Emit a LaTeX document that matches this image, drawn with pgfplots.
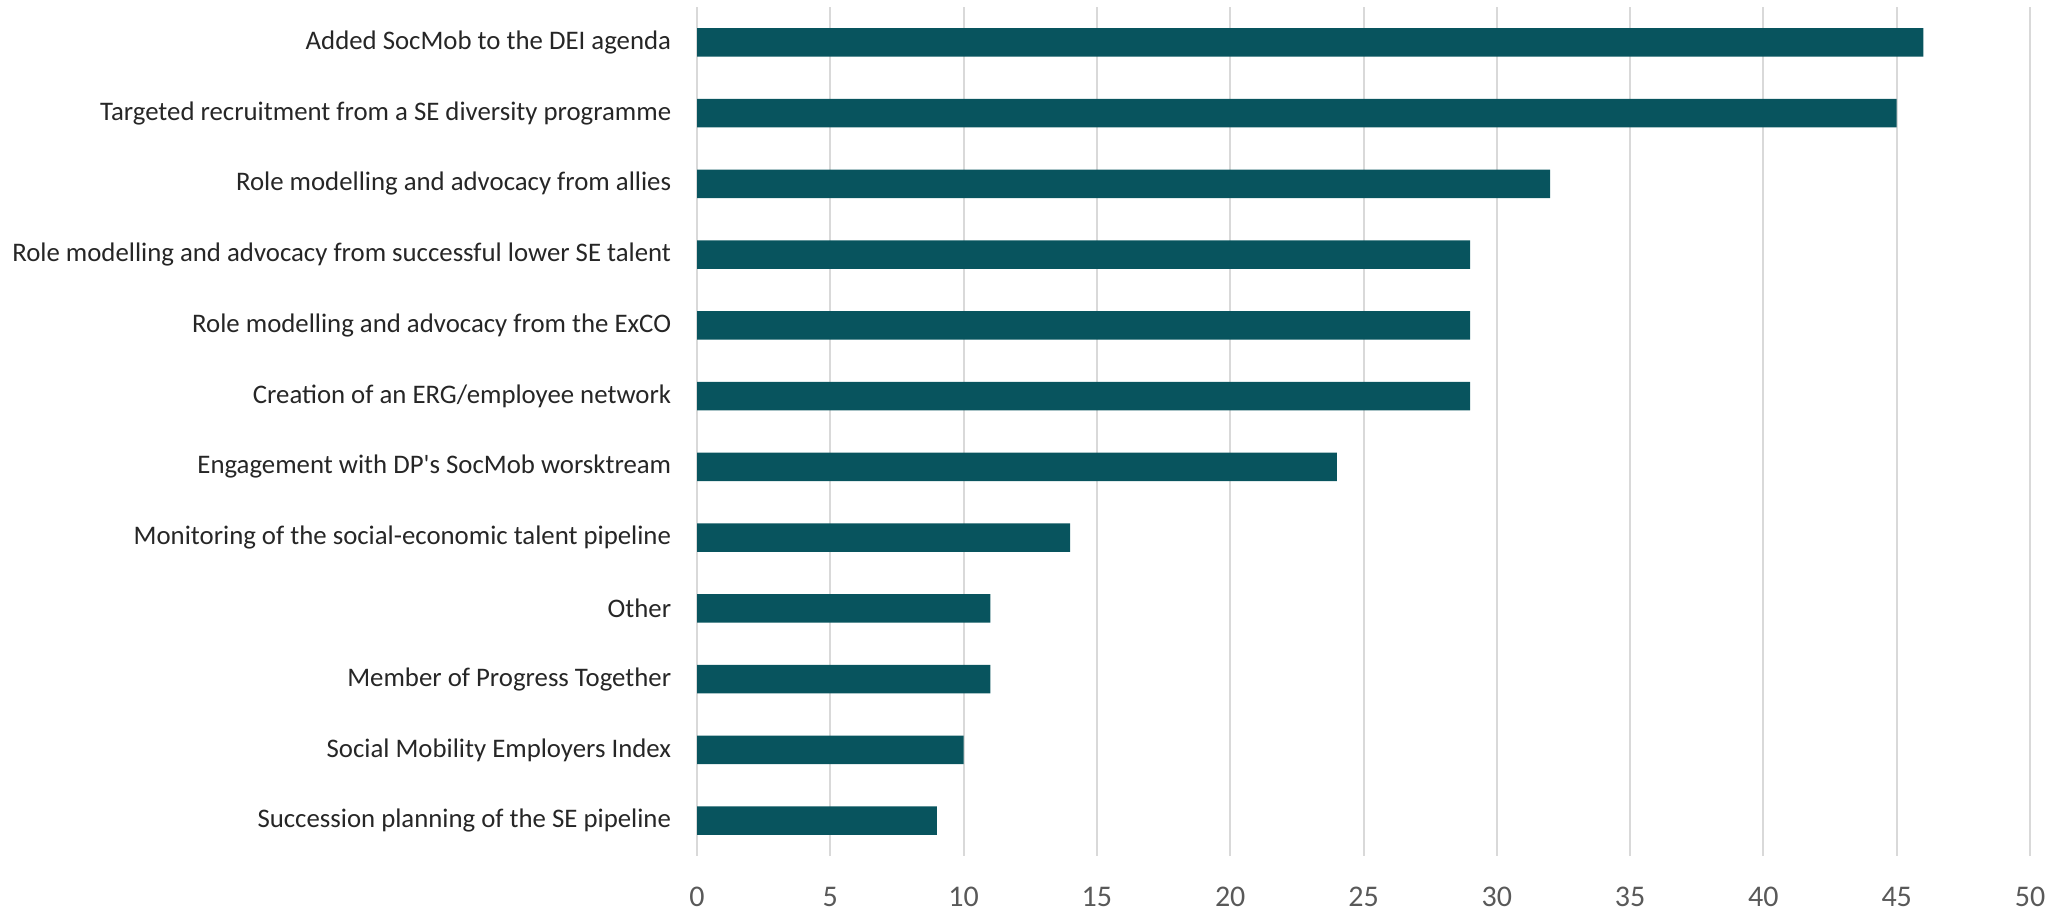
\documentclass[border=0pt]{standalone}
\usepackage{pgfplots}
\pgfplotsset{compat=1.18}
\usepackage{fontspec}
\setmainfont{Carlito}[Ligatures=TeXOff]
\definecolor{barcol}{RGB}{8,84,94}
\definecolor{gridcol}{RGB}{217,217,217}
\definecolor{ticktext}{RGB}{89,89,89}
\definecolor{labtext}{RGB}{38,38,38}
\begin{document}
\begin{tikzpicture}
\useasboundingbox (0,0) rectangle (1027.5bp,456bp);
\begin{axis}[
  at={(348.5bp,28bp)}, anchor=south west,
  scale only axis, width=666.5bp, height=424.5bp,
  xbar, bar width=0.4,
  xmin=0, xmax=50, xtick={0,5,...,50},
  ymin=-0.5, ymax=11.5, y dir=reverse,
  ytick={0,...,11},
  yticklabels={Added SocMob to the DEI agenda,
    Targeted recruitment from a SE diversity programme,
    Role modelling and advocacy from allies,
    Role modelling and advocacy from successful lower SE talent,
    Role modelling and advocacy from the ExCO,
    Creation of an ERG/employee network,
    Engagement with DP's SocMob worsktream,
    Monitoring of the social-economic talent pipeline,
    Other,
    Member of Progress Together,
    Social Mobility Employers Index,
    Succession planning of the SE pipeline},
  axis line style={draw=none},
  tick style={draw=none},
  xmajorgrids=true, ymajorgrids=false,
  major grid style={draw=gridcol, line width=1bp},
  /pgf/number format/assume math mode=true,
  xticklabel style={font=\fontsize{15bp}{18bp}\selectfont, text=ticktext, anchor=center, inner sep=0pt, yshift=-20.5bp},
  yticklabel style={font=\fontsize{13.4bp}{16bp}\selectfont, text=labtext, anchor=east, inner sep=0pt, xshift=-8.5bp},
]
\addplot[fill=barcol, draw=none] coordinates {
  (46,0) (45,1) (32,2) (29,3) (29,4) (29,5) (24,6) (14,7) (11,8) (11,9) (10,10) (9,11)
};
\end{axis}
\end{tikzpicture}
\end{document}
